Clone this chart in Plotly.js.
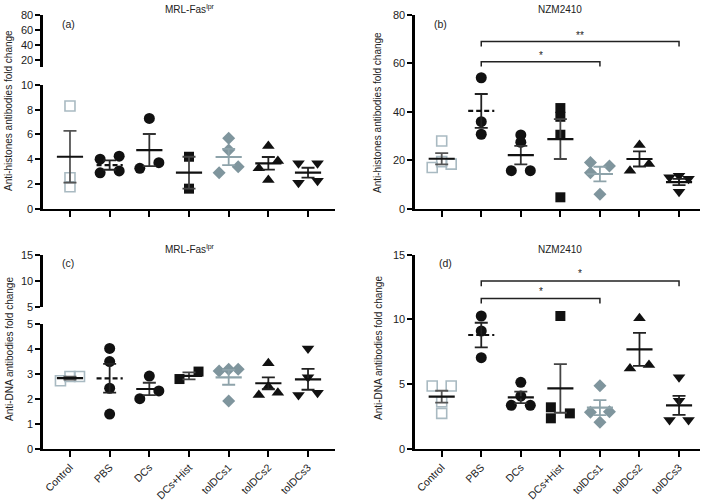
<!DOCTYPE html>
<html>
<head>
<meta charset="utf-8">
<script src="https://cdn.plot.ly/plotly-3.0.1.min.js"></script>
<style>html,body{margin:0;padding:0;background:#fff;}#chart{width:709px;height:500px;}</style>
</head>
<body>
<div id="chart"></div>
<script>
// ---------------- DATA ----------------
const categories = ['Control', 'PBS', 'DCs', 'DCs+Hist', 'tolDCs1', 'tolDCs2', 'tolDCs3'];

// (a) Anti-histones, MRL-Fas lpr
const histMRL = [
  [8.3, 2.5, 1.78],
  [4.0, 4.25, 2.9, 3.05],
  [7.3, 3.26, 3.72],
  [4.2, 1.62],
  [5.69, 4.74, 2.91, 3.4],
  [5.07, 3.26, 3.85, 2.32],
  [3.67, 3.67, 2.1, 2.26]
];
const histMRLMean = [4.2, 3.53, 4.74, 2.91, 4.18, 3.67, 2.91];
const histMRLSem = [2.09, 0.38, 1.3, 1.29, 0.65, 0.51, 0.4];

// (b) Anti-histones, NZM2410
const histNZM = [
  [27.9, 17.0, 19.4, 18.4],
  [54.0, 35.9, 30.7],
  [30.4, 27.4, 15.7, 15.7],
  [41.5, 37.9, 30.5, 4.7],
  [19.1, 17.6, 14.8, 6.0],
  [26.3, 15.7, 18.4],
  [13.0, 13.6, 12.4, 7.0]
];
const histNZMMean = [20.6, 40.3, 22.1, 28.7, 14.3, 20.5, 11.0];
const histNZMSem = [2.3, 7.0, 3.8, 8.2, 3.0, 3.1, 1.3];

// (c) Anti-DNA, MRL-Fas lpr
const dnaMRL = [
  [2.73, 2.9, 2.9],
  [4.03, 3.5, 2.43, 1.39],
  [2.92, 2.01, 2.32],
  [2.8, 3.1],
  [3.12, 3.19, 3.19, 1.92],
  [3.43, 2.16, 2.5, 2.25],
  [4.03, 2.87, 2.16, 2.25]
];
const dnaMRLMean = [2.84, 2.83, 2.4, 2.93, 2.87, 2.63, 2.79];
const dnaMRLSem = [0.06, 0.58, 0.25, 0.14, 0.3, 0.24, 0.42];

// (d) Anti-DNA, NZM2410
const dnaNZM = [
  [4.85, 4.85, 3.63, 2.73],
  [10.26, 9.1, 7.04],
  [5.13, 4.07, 3.35, 3.35],
  [10.26, 3.2, 2.73, 2.35],
  [4.87, 2.81, 2.86, 2.04],
  [10.08, 6.21, 6.47],
  [5.52, 3.71, 2.22, 2.22]
];
const dnaNZMMean = [4.02, 8.79, 3.97, 4.66, 3.17, 7.68, 3.35];
const dnaNZMSem = [0.46, 0.95, 0.45, 1.88, 0.58, 1.27, 0.73];

// significance brackets: [fromIndex, toIndex, label]
const sigHistNZM = [[1, 4, '*'], [1, 6, '**']];
const sigDnaNZM = [[1, 4, '*'], [1, 6, '*']];

// ---------------- STYLE / PLACEMENT ----------------
const groupStyle = [
  {symbol: 'square-open', color: '#a9bac2', size: 10, err: '#555555', dash: 'solid'},
  {symbol: 'circle', color: '#111111', size: 11, err: '#222222', dash: 'dash'},
  {symbol: 'circle', color: '#111111', size: 11, err: '#333333', dash: 'solid'},
  {symbol: 'square', color: '#111111', size: 10, err: '#444444', dash: 'solid'},
  {symbol: 'diamond', color: '#7f959d', size: 10, err: '#8ea3aa', dash: 'solid'},
  {symbol: 'triangle-up', color: '#111111', size: 11, err: '#222222', dash: 'solid'},
  {symbol: 'triangle-down', color: '#111111', size: 11, err: '#222222', dash: 'solid'}
];
// horizontal scatter slots (multiples of the jitter step) per point
const jitterStep = 0.24;
const slots = {
  a: [[0,0,0],[-1,1,-1,1],[0,-1,1],[0,0],[0,0,-1,1],[0,-1,1,0],[-1,1,-1,1]],
  b: [[0,-1,0,1],[0,0,0],[0,0,-1,1],[0,0,0,0],[-1,1,-1,0],[0,-1,1],[-1,0,1,0]],
  c: [[-1,0,1],[0,0,0,0],[0,-1,1],[-1,1],[-1,0,1,0],[0,-1,0,1],[0,0,-1,1]],
  d: [[-1,1,0,0],[0,0,0],[0,0,-1,1],[0,-1,1,-1],[0,-1,1,0],[0,-1,1],[0,0,-1,1]]
};

const W = 709, H = 500;
const px = v => v / W;
const py = v => 1 - v / H;

const traces = [];
function addPanel(values, means, sems, slotArr, xa, ya) {
  // points
  values.forEach((vals, i) => {
    const st = groupStyle[i];
    traces.push({
      type: 'scatter', mode: 'markers', xaxis: xa, yaxis: ya, hoverinfo: 'skip',
      x: vals.map((v, k) => i + slotArr[i][k] * jitterStep),
      y: vals,
      marker: {symbol: st.symbol, size: st.size, color: st.color,
               line: {width: st.symbol.endsWith('open') ? 1.6 : 0, color: st.color}},
      showlegend: false, cliponaxis: false
    });
  });
  // error bars (SEM)
  means.forEach((m, i) => {
    const st = groupStyle[i];
    traces.push({
      type: 'scatter', mode: 'markers', xaxis: xa, yaxis: ya, hoverinfo: 'skip',
      x: [i], y: [m], marker: {size: 1, opacity: 0},
      error_y: {type: 'data', array: [sems[i]], visible: true, color: st.err, thickness: 1.8, width: 6.5},
      showlegend: false
    });
  });
  // mean lines
  means.forEach((m, i) => {
    const st = groupStyle[i];
    traces.push({
      type: 'scatter', mode: 'lines', xaxis: xa, yaxis: ya, hoverinfo: 'skip',
      x: [i - 0.33, i + 0.33], y: [m, m],
      line: {color: st.err === '#8ea3aa' ? '#8ea3aa' : '#111', width: 2.2, dash: st.dash === 'dash' ? '5px,3px' : 'solid'},
      showlegend: false
    });
  });
}
function addBrackets(sigs, xa, ya, levels, drop, starY) {
  sigs.forEach((s, k) => {
    traces.push({
      type: 'scatter', mode: 'lines', xaxis: xa, yaxis: ya, hoverinfo: 'skip',
      x: [s[0], s[0], s[1], s[1]], y: [levels[k] - drop, levels[k], levels[k], levels[k] - drop],
      line: {color: '#222', width: 1.5}, showlegend: false
    });
  });
}

addPanel(histMRL, histMRLMean, histMRLSem, slots.a, 'x', 'y');
addPanel(histNZM, histNZMMean, histNZMSem, slots.b, 'x2', 'y3');
addPanel(dnaMRL, dnaMRLMean, dnaMRLSem, slots.c, 'x3', 'y4');
addPanel(dnaNZM, dnaNZMMean, dnaNZMSem, slots.d, 'x4', 'y6');
addBrackets(sigHistNZM, 'x2', 'y3', [60.6, 68.9], 2.0);
addBrackets(sigDnaNZM, 'x4', 'y6', [11.62, 12.96], 0.4);
// placeholders so the upper broken-axis segments are drawn
traces.push({type: 'scatter', mode: 'markers', xaxis: 'x', yaxis: 'y2', x: [0], y: [50], marker: {opacity: 0}, hoverinfo: 'skip', showlegend: false});
traces.push({type: 'scatter', mode: 'markers', xaxis: 'x3', yaxis: 'y5', x: [0], y: [10], marker: {opacity: 0}, hoverinfo: 'skip', showlegend: false});

const FONT = 'Liberation Sans, Arial, sans-serif';
const tickFont = {family: FONT, size: 11, color: '#222'};
function yAx(domainPx, range, tickvals, anchor) {
  return {
    domain: [py(domainPx[1]), py(domainPx[0])], range: range, anchor: anchor,
    showline: true, linecolor: '#000', linewidth: 2.6, mirror: false,
    ticks: 'outside', ticklen: 5, tickwidth: 2, tickcolor: '#000',
    tickvals: tickvals, ticktext: tickvals.map(String), tickfont: tickFont,
    showgrid: false, zeroline: false, fixedrange: true
  };
}
function xAx(domainPx, range, anchor, labels) {
  return {
    domain: [px(domainPx[0]), px(domainPx[1])], range: range, anchor: anchor,
    showline: true, linecolor: '#000', linewidth: 2.6,
    ticks: 'outside', ticklen: 6, tickwidth: 2, tickcolor: '#000',
    tickvals: categories.map((c, i) => i), ticktext: categories,
    showticklabels: labels, tickangle: -45, tickfont: {family: FONT, size: 10.5, color: '#222'},
    showgrid: false, zeroline: false, fixedrange: true
  };
}

const leftX = [43, 335], rightX = [415, 700];
const layout = {
  width: W, height: H,
  margin: {l: 0, r: 0, t: 0, b: 0, pad: 0},
  paper_bgcolor: '#fff', plot_bgcolor: 'rgba(0,0,0,0)',
  showlegend: false,
  font: {family: FONT, color: '#222'},
  xaxis: xAx(leftX, [-0.68, 6.68], 'y', false),
  yaxis: yAx([85, 208.7], [0, 10], [0, 2, 4, 6, 8, 10], 'x'),
  yaxis2: yAx([14.7, 67], [10.7, 80], [20, 40, 60, 80], 'x'),
  xaxis2: xAx(rightX, [-0.675, 6.53], 'y3', false),
  yaxis3: yAx([14.7, 208.7], [0, 80], [0, 20, 40, 60, 80], 'x2'),
  xaxis3: xAx(leftX, [-0.68, 6.68], 'y4', true),
  yaxis4: yAx([324.3, 448.7], [0, 5], [0, 1, 2, 3, 4, 5], 'x3'),
  yaxis5: yAx([254.7, 307.3], [5, 15], [5, 10, 15], 'x3'),
  xaxis4: xAx(rightX, [-0.675, 6.53], 'y6', true),
  yaxis6: yAx([254.7, 448.7], [0, 15], [0, 5, 10, 15], 'x4'),
  annotations: []
};

function ann(text, xPx, yPx, size, extra) {
  layout.annotations.push(Object.assign({
    text: text, xref: 'paper', yref: 'paper', x: px(xPx), y: py(yPx),
    xanchor: 'center', yanchor: 'middle', showarrow: false,
    font: {family: FONT, size: size, color: '#222'}
  }, extra || {}));
}
// panel titles
ann('MRL-Fas<sup>lpr</sup>', 190, 9, 10);
ann('NZM2410', 560, 9, 10);
ann('MRL-Fas<sup>lpr</sup>', 190, 249, 10);
ann('NZM2410', 560, 249, 10);
// panel letters
ann('(a)', 68, 24, 10.5);
ann('(b)', 440, 24, 10.5);
ann('(c)', 68, 263, 10.5);
ann('(d)', 445, 263, 10.5);
// y axis titles
ann('Anti-histones antibodies fold change', 9, 111, 10, {textangle: -90});
ann('Anti-histones antibodies fold change', 378, 112, 10, {textangle: -90});
ann('Anti-DNA antibodies fold change', 9, 349, 10, {textangle: -90});
ann('Anti-DNA antibodies fold change', 378, 348, 10, {textangle: -90});
// significance labels (data coordinates)
function starAnn(text, xa, ya, x, y) {
  layout.annotations.push({text: text, xref: xa, yref: ya, x: x, y: y, showarrow: false,
    xanchor: 'center', yanchor: 'middle', font: {family: FONT, size: 10, color: '#222'}});
}
sigHistNZM.forEach((s, k) => starAnn(s[2], 'x2', 'y3', (s[0] + s[1]) / 2, [63.3, 71.4][k]));
sigDnaNZM.forEach((s, k) => starAnn(s[2], 'x4', 'y6', (s[0] + s[1]) / 2, [12.12, 13.55][k]));

Plotly.newPlot('chart', traces, layout, {staticPlot: true, displayModeBar: false});
</script>
</body>
</html>
